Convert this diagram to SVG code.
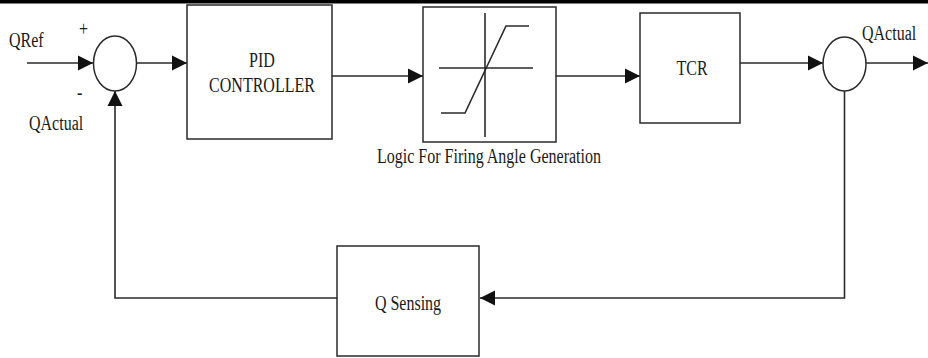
<svg xmlns="http://www.w3.org/2000/svg" width="928" height="358" viewBox="0 0 928 358">
<style>
.b{fill:#fff;stroke:#2a2a2a;stroke-width:1.5}
.l{fill:none;stroke:#2a2a2a;stroke-width:1.6}
.t{font-family:"Liberation Serif","Times New Roman",serif;font-size:16px;fill:#1a1a1a}
.m{text-anchor:middle}
</style>
<defs>
<marker id="ah" markerUnits="userSpaceOnUse" markerWidth="16" markerHeight="16" viewBox="0 0 16 16" refX="15" refY="8" orient="auto">
<path d="M0,0.5 L15,8 L0,15.5 Z" fill="#111"/>
</marker>
</defs>
<rect x="0" y="0" width="928" height="3.5" fill="#000"/>
<g id="connectors">
<line class="l" x1="27" y1="63" x2="93" y2="63" marker-end="url(#ah)"/>
<line class="l" x1="136.5" y1="63" x2="187" y2="63" marker-end="url(#ah)"/>
<line class="l" x1="332" y1="76" x2="423" y2="76" marker-end="url(#ah)"/>
<line class="l" x1="556" y1="76" x2="640" y2="76" marker-end="url(#ah)"/>
<line class="l" x1="740" y1="63" x2="823" y2="63" marker-end="url(#ah)"/>
<line class="l" x1="866" y1="63" x2="928" y2="63" marker-end="url(#ah)"/>
<polyline class="l" points="844.5,91 844.5,298 480,298" marker-end="url(#ah)"/>
<polyline class="l" points="337,298 115,298 115,91" marker-end="url(#ah)"/>
</g>
<g id="sum1">
<ellipse class="b" cx="115" cy="63.5" rx="21.5" ry="27.5"/>
<text class="t" transform="translate(79,36) scale(1,1.25)">+</text>
<text class="t" transform="translate(77,99) scale(1,1.25)">-</text>
</g>
<g id="qref-label"><text class="t" transform="translate(9,47) scale(1,1.25)">QRef</text></g>
<g id="qactual-in-label"><text class="t" transform="translate(29,130) scale(1,1.25)">QActual</text></g>
<g id="pid">
<rect class="b" x="187" y="5" width="145" height="134"/>
<text class="t m" transform="translate(262,67) scale(1,1.25)">PID</text>
<text class="t m" transform="translate(262,92) scale(1,1.25)">CONTROLLER</text>
</g>
<g id="logic">
<rect class="b" x="423" y="7" width="133" height="135"/>
<line class="l" x1="485" y1="13" x2="485" y2="137"/>
<line class="l" x1="439" y1="68" x2="533" y2="68"/>
<polyline class="l" points="441,113 465,113 506,26 529,26"/>
<text class="t m" transform="translate(489,163) scale(1,1.25)">Logic For Firing Angle Generation</text>
</g>
<g id="tcr">
<rect class="b" x="640" y="13" width="100" height="110"/>
<text class="t m" transform="translate(692,75) scale(1,1.25)">TCR</text>
</g>
<g id="sum2">
<ellipse class="b" cx="844.5" cy="64" rx="21.5" ry="27"/>
<text class="t" transform="translate(862,40) scale(1,1.25)">QActual</text>
</g>
<g id="qsensing">
<rect class="b" x="337" y="246" width="142" height="110"/>
<text class="t m" transform="translate(408,310) scale(1,1.25)">Q Sensing</text>
</g>
</svg>
